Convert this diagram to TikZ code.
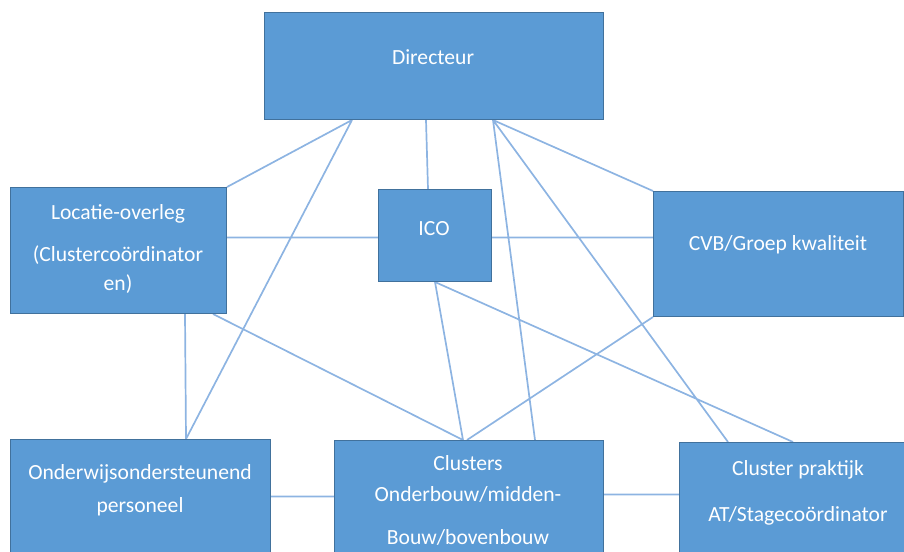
\documentclass[tikz,border=0pt]{standalone}
\usepackage{fontspec}
\setmainfont{Carlito}
\usetikzlibrary{backgrounds}
\definecolor{boxfill}{HTML}{5B9BD5}
\definecolor{boxline}{HTML}{41719C}
\definecolor{conn}{HTML}{8DB4E2}
\begin{document}
\begin{tikzpicture}[x=1pt,y=-1pt,
  orgbox/.style={draw=boxline,line width=1pt,fill=boxfill,rectangle,inner sep=0pt,anchor=north west},
  lbl/.style={text=white,font=\fontsize{21.6}{26}\selectfont,inner sep=0pt,anchor=base},
  link/.style={draw=conn,line width=1.7pt}]
\useasboundingbox (0,0) rectangle (904,551);
\clip (0,0) rectangle (904,551);
\node[orgbox,minimum width=339pt,minimum height=107pt] (dir) at (264,12) {};
\node[orgbox,minimum width=216pt,minimum height=126pt] (loc) at (10,187) {};
\node[orgbox,minimum width=113pt,minimum height=92pt] (ico) at (378,189) {};
\node[orgbox,minimum width=250pt,minimum height=125pt] (cvb) at (653,191) {};
\node[orgbox,minimum width=260pt,minimum height=125pt] (ond) at (10,439) {};
\node[orgbox,minimum width=269pt,minimum height=125pt] (clu) at (334,440) {};
\node[orgbox,minimum width=240pt,minimum height=125pt] (pra) at (679,442) {};
\begin{scope}[on background layer]
\path[link]
  ([xshift=88pt]dir.south west) -- (loc.north east)
  ([xshift=88pt]dir.south west) -- ([xshift=176pt]ond.north west)
  ([xshift=162pt]dir.south west) -- ([xshift=50pt]ico.north west)
  ([xshift=229pt]dir.south west) -- (cvb.north west)
  ([xshift=229pt]dir.south west) -- ([xshift=201pt]clu.north west)
  ([xshift=229pt]dir.south west) -- ([xshift=49pt]pra.north west)
  ([yshift=-2pt]ico.west) -- ([yshift=-2pt]ico.west -| loc.east)
  ([yshift=-2pt]ico.east) -- ([yshift=-2pt]ico.east -| cvb.west)
  ([xshift=175pt]loc.south west) -- ([xshift=176pt]ond.north west)
  ([xshift=203pt]loc.south west) -- ([xshift=129pt]clu.north west)
  ([xshift=57pt]ico.south west) -- ([xshift=129pt]clu.north west)
  ([xshift=57pt]ico.south west) -- ([xshift=114pt]pra.north west)
  (cvb.south west) -- ([xshift=133pt]clu.north west)
  ([yshift=5.5pt]ond.east) -- ([yshift=5.5pt]ond.east -| clu.west)
  ([yshift=10.5pt]pra.west) -- ([yshift=10.5pt]pra.west -| clu.east);
\end{scope}
\node[lbl] (t1) at (433,64) {Directeur};
\node[lbl] (t2) at (118,219) {Locatie-overleg};
\node[lbl] (t3) at (118,261) {(Clustercoördinator};
\node[lbl] (t4) at (118,290) {en)};
\node[lbl] (t5) at (434,235) {ICO};
\node[lbl] (t6) at (778,250) {CVB/Groep kwaliteit};
\node[lbl] (t7) at (140,479) {Onderwijsondersteunend};
\node[lbl] (t8) at (140,512) {personeel};
\node[lbl] (t9) at (468,470) {Clusters};
\node[lbl] (t10) at (468,501) {Onderbouw/midden-};
\node[lbl] (t11) at (468,544) {Bouw/bovenbouw};
\node[lbl] (t12) at (798,475) {Cluster praktijk};
\node[lbl] (t13) at (798,521) {AT/Stagecoördinator};
\end{tikzpicture}
\end{document}
